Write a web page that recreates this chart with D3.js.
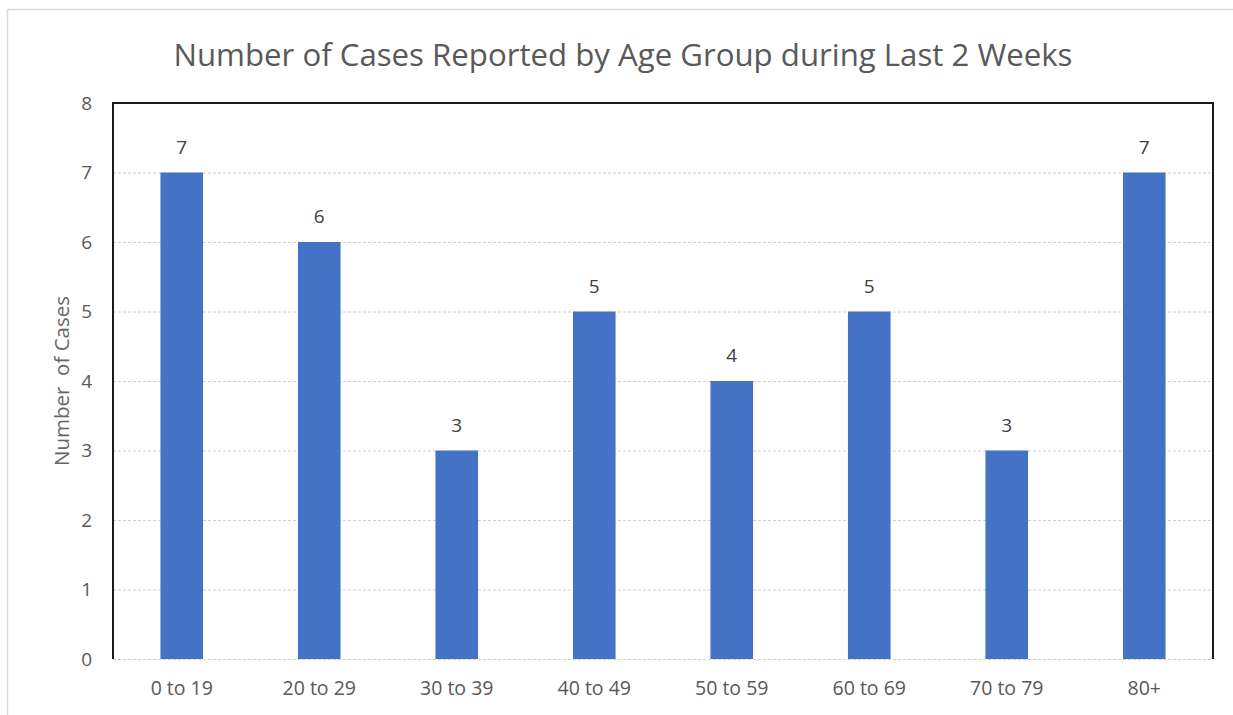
<!DOCTYPE html>
<meta charset="utf-8">
<style>
    body { margin: 0; background: #fff; }
    text { font-family: "Open Sans", Lato, sans-serif; }
</style>
<body>
    <div id="chart"></div>
    <script src="https://cdn.jsdelivr.net/npm/d3@7"></script>
    <script>
        // age groups and reported cases (last 2 weeks)
        var ageGroups = ['0 to 19', '20 to 29', '30 to 39', '40 to 49', '50 to 59', '60 to 69', '70 to 79', '80+']
        var cases = [7, 6, 3, 5, 4, 5, 3, 7]
        var yTicks = [0, 1, 2, 3, 4, 5, 6, 7, 8]

        var data = ageGroups.map(function (g, i) { return { group: g, value: cases[i] } })

        var W = 1233, H = 715
        var margin = { top: 103, right: 20, bottom: 56, left: 113 }
        var width = 1213 - margin.left
        var height = 659 - margin.top

        var svg = d3.select('#chart').append('svg')
            .attr('width', W)
            .attr('height', H)

        // faint frame of the chart area (top and left only, as in the screenshot)
        svg.append('line').attr('x1', 7).attr('x2', W).attr('y1', 9.5).attr('y2', 9.5)
            .style('stroke', '#d9d9d9').style('stroke-width', 1.5)
        svg.append('line').attr('x1', 7.5).attr('x2', 7.5).attr('y1', 9).attr('y2', H)
            .style('stroke', '#d9d9d9').style('stroke-width', 1.5)

        svg.append('text')
            .attr('x', 623)
            .attr('y', 66)
            .attr('text-anchor', 'middle')
            .style('font-size', '31.2px')
            .style('fill', '#595959')
            .text('Number of Cases Reported by Age Group during Last 2 Weeks')

        var g = svg.append('g')
            .attr('transform', 'translate(' + margin.left + ',' + margin.top + ')')

        var x = d3.scaleBand()
            .domain(ageGroups)
            .range([0, width])
            .paddingInner(0.69)
            .paddingOuter(0.345)

        var y = d3.scaleLinear()
            .domain([0, 8])
            .range([height, 0])

        // gridlines
        g.append('g')
            .selectAll('line')
            .data(yTicks.slice(0, -1))
            .enter().append('line')
            .attr('x1', 0)
            .attr('x2', width)
            .attr('y1', function (d) { return y(d) + 0.5 })
            .attr('y2', function (d) { return y(d) + 0.5 })
            .style('stroke', '#d0d0d0')
            .style('stroke-width', 1)
            .style('stroke-dasharray', '3,2')

        // y axis
        var yAxis = d3.axisLeft(y).tickValues(yTicks).tickSize(0).tickPadding(21)
        var gy = g.append('g').call(yAxis)
        gy.select('.domain').remove()
        gy.selectAll('text')
            .style('font-size', '19px')
            .style('fill', '#595959')
            .attr('font-family', null)

        // x axis
        var xAxis = d3.axisBottom(x).tickSize(0).tickPadding(22)
        var gx = g.append('g')
            .attr('transform', 'translate(0,' + height + ')')
            .call(xAxis)
        gx.select('.domain').remove()
        gx.selectAll('text')
            .style('font-size', '19.5px')
            .style('fill', '#595959')
            .attr('font-family', null)

        // bars
        g.selectAll('rect.bar')
            .data(data)
            .enter().append('rect')
            .attr('class', 'bar')
            .attr('x', function (d) { return x(d.group) })
            .attr('width', x.bandwidth())
            .attr('y', function (d) { return y(d.value) })
            .attr('height', function (d) { return height - y(d.value) })
            .style('fill', '#4472c4')

        // value labels
        g.selectAll('text.lbl')
            .data(data)
            .enter().append('text')
            .attr('class', 'lbl')
            .attr('x', function (d) { return x(d.group) + x.bandwidth() / 2 })
            .attr('y', function (d) { return y(d.value) - 19 })
            .attr('text-anchor', 'middle')
            .style('font-size', '19px')
            .style('fill', '#404040')
            .text(function (d) { return d.value })

        // plot frame: top, left, right in black
        g.append('path')
            .attr('d', 'M0,' + height + 'V0H' + width + 'V' + height)
            .style('fill', 'none')
            .style('stroke', '#1a1a1a')
            .style('stroke-width', 2)

        // y axis title
        svg.append('text')
            .attr('transform', 'translate(69,381) rotate(-90)')
            .attr('text-anchor', 'middle')
            .style('font-size', '20.5px')
            .style('fill', '#666')
            .style('white-space', 'pre')
            .text('Number  of Cases')
    </script>
</body>
